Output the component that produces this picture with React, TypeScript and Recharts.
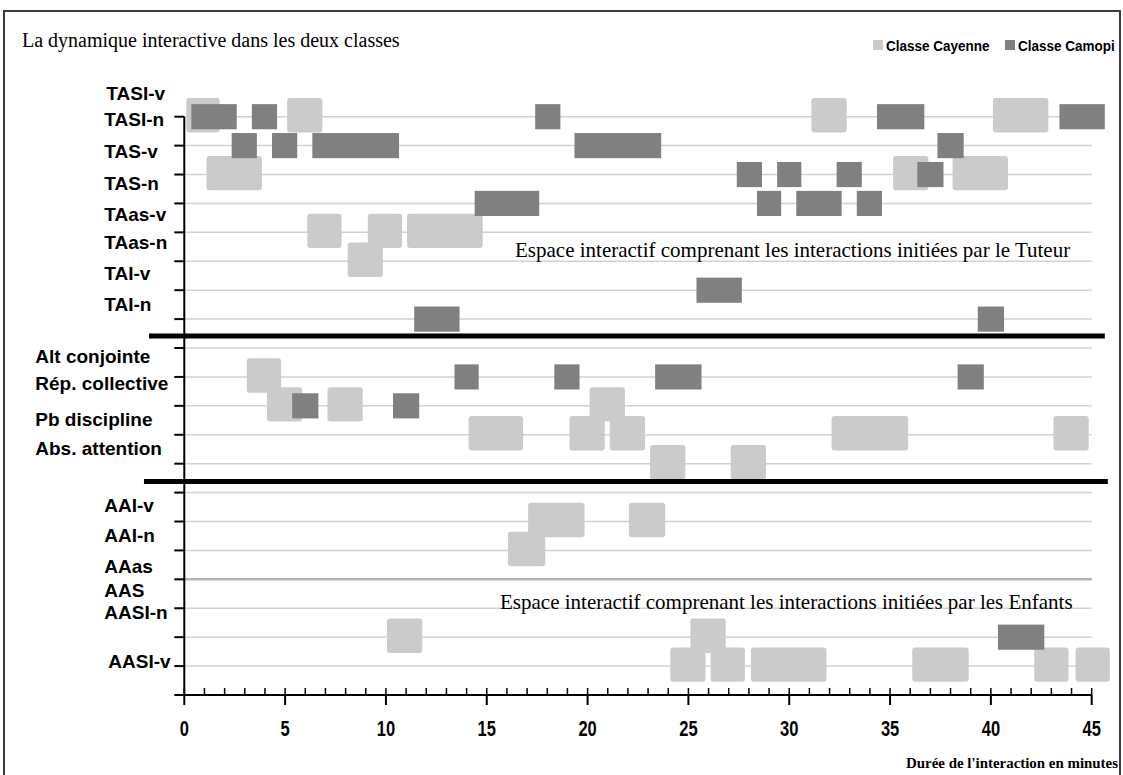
import React from 'react'
import {
  ComposedChart,
  Scatter,
  XAxis,
  YAxis,
  CartesianGrid,
  ReferenceArea,
  ReferenceLine,
} from 'recharts'

// Blocks: [start minute, end minute, row] (row 0 = time axis, row 20 = TASI)
const cayenneBlocks: [number, number, number][] = [
  [0.1, 1.75, 20], [5.1, 6.85, 20], [31.1, 32.85, 20], [40.1, 42.85, 20],
  [1.1, 3.85, 18], [35.15, 36.9, 18], [38.1, 40.85, 18],
  [6.1, 7.8, 16], [9.1, 10.8, 16], [11.05, 14.8, 16],
  [8.1, 9.85, 15],
  [3.1, 4.8, 11],
  [4.1, 5.85, 10], [7.1, 8.85, 10], [20.1, 21.85, 10],
  [14.1, 16.8, 9], [19.1, 20.85, 9], [21.1, 22.85, 9], [32.1, 35.9, 9], [43.1, 44.85, 9],
  [23.1, 24.85, 8], [27.1, 28.85, 8],
  [17.05, 19.85, 6], [22.05, 23.85, 6],
  [16.05, 17.9, 5],
  [10.05, 11.8, 2], [25.1, 26.85, 2],
  [24.1, 25.85, 1], [26.1, 27.8, 1], [28.1, 31.85, 1], [36.1, 38.9, 1], [42.15, 43.85, 1], [44.2, 45.9, 1],
]

const camopiBlocks: [number, number, number][] = [
  [0.35, 2.6, 20], [3.35, 4.6, 20], [17.4, 18.65, 20], [34.35, 36.7, 20], [43.4, 45.65, 20],
  [2.35, 3.6, 19], [4.35, 5.6, 19], [6.35, 10.65, 19], [19.35, 23.65, 19], [37.35, 38.65, 19],
  [27.4, 28.65, 18], [29.4, 30.6, 18], [32.35, 33.6, 18], [36.35, 37.65, 18],
  [14.4, 17.6, 17], [28.4, 29.6, 17], [30.35, 32.6, 17], [33.35, 34.6, 17],
  [25.4, 27.65, 14],
  [11.4, 13.65, 13], [39.35, 40.65, 13],
  [13.4, 14.6, 11], [18.35, 19.6, 11], [23.35, 25.65, 11], [38.35, 39.65, 11],
  [5.35, 6.65, 10], [10.35, 11.65, 10],
  [40.35, 42.65, 2],
]

const rowLabels = [
  'TASI-v', 'TASI-n', 'TAS-v', 'TAS-n', 'TAas-v', 'TAas-n', 'TAI-v', 'TAI-n',
  'Alt conjointe', 'Rép. collective', 'Pb discipline', 'Abs. attention',
  'AAI-v', 'AAI-n', 'AAas', 'AAS', 'AASI-n', 'AASI-v',
]
const rowLabelPos = [
  20.8, 19.9, 18.79, 17.69, 16.63, 15.64, 14.58, 13.49,
  11.7, 10.78, 9.53, 8.53,
  6.57, 5.5, 4.46, 3.6, 2.84, 1.15,
]

const rowTicks = Array.from({ length: 21 }, (_, i) => i)
const majorTicks = [0, 5, 10, 15, 20, 25, 30, 35, 40, 45]
const minuteTicks = Array.from({ length: 46 }, (_, i) => i)

const LIGHT = '#cbcbcb'
const DARK = '#808080'
const LIGHT_H = 1.19
const DARK_H = 0.87
const LIGHT_LIFT = 0.05

// distance from the y axis to the left edge of each label (px)
const labelIndent: Record<string, number> = {
  'TASI-v': 78,
  'Alt conjointe': 149,
  'Rép. collective': 149,
  'Pb discipline': 149,
  'Abs. attention': 149,
  'AASI-v': 76,
}

const SANS = "'Liberation Sans', Arial, sans-serif"
const SERIF = "'Liberation Serif', 'Times New Roman', serif"

// block start points, used as the anchor series of the chart
const cayennePoints = cayenneBlocks.map(([s, , r]) => ({ x: s, y: r }))
const camopiPoints = camopiBlocks.map(([s, , r]) => ({ x: s, y: r }))

const MinuteTick = ({ x, y, payload }: any) => {
  const v = payload.value
  const major = majorTicks.includes(v)
  return (
    <g>
      <line x1={x} x2={x} y1={y} y2={y - 7} stroke="#000" strokeWidth={1.5} />
      {major && <line x1={x} x2={x} y1={y} y2={y + 10} stroke="#000" strokeWidth={2} />}
      {major && (
        <text
          transform={`translate(${x},${y + 41}) scale(0.75,1)`}
          textAnchor="middle"
          fontFamily={SANS}
          fontWeight={700}
          fontSize={22}
          fill="#000"
        >
          {v}
        </text>
      )}
    </g>
  )
}

const EmptyTick = () => <g />

const block = (fill: string, r: number) => (p: any) => (
  <rect x={p.x} y={p.y} width={p.width} height={p.height} rx={r} ry={r} fill={fill} />
)

const noDot = () => <g />

const LegendItem = ({ x, color, text }: { x: number; color: string; text: string }) => (
  <g>
    <rect x={x} y={40} width={10} height={10} fill={color} />
    <text
      transform={`translate(${x + 13},51) scale(0.9,1)`}
      fontFamily={SANS}
      fontWeight={700}
      fontSize={15}
      fill="#000"
    >
      {text}
    </text>
  </g>
)

export default function App() {
  return (
    <div style={{ position: 'absolute', left: 0, top: 0, width: 1123, height: 775, background: '#fff', overflow: 'hidden' }}>
      <div
        style={{
          position: 'absolute', left: 3, top: 10, width: 1118, height: 800,
          boxSizing: 'border-box', border: '2px solid #3c3c3c',
        }}
      />
      <div style={{ position: 'absolute', left: 0, top: 0 }}>
        <ComposedChart width={1123} height={775} margin={{ top: 116.7, right: 31.3, bottom: 30, left: 174.3 }}>
          <CartesianGrid vertical={false} stroke="#d2d2d2" strokeWidth={1.5} />
          <XAxis
            type="number"
            dataKey="x"
            domain={[0, 45]}
            allowDataOverflow
            ticks={minuteTicks}
            interval={0}
            tickSize={0}
            tickMargin={0}
            tickLine={false}
            tick={<MinuteTick />}
            axisLine={{ stroke: '#000', strokeWidth: 2 }}
            height={50}
          />
          <YAxis
            type="number"
            dataKey="y"
            domain={[0, 20]}
            allowDataOverflow
            ticks={rowTicks}
            interval={0}
            tick={<EmptyTick />}
            tickSize={10}
            tickLine={{ stroke: '#000', strokeWidth: 2 }}
            axisLine={{ stroke: '#000', strokeWidth: 2 }}
            width={10}
          />
          <Scatter name="Classe Cayenne" data={cayennePoints} fill={LIGHT} shape={noDot} isAnimationActive={false} />
          <Scatter name="Classe Camopi" data={camopiPoints} fill={DARK} shape={noDot} isAnimationActive={false} />
          <ReferenceLine y={4} stroke="#b4b4b4" strokeWidth={2.5} />
          {cayenneBlocks.map(([s, e, r], i) => (
            <ReferenceArea
              key={'cay' + i}
              x1={s}
              x2={e}
              y1={r + LIGHT_LIFT - LIGHT_H / 2}
              y2={r + LIGHT_LIFT + LIGHT_H / 2}
              ifOverflow="visible"
              shape={block(LIGHT, 3)}
            />
          ))}
          {camopiBlocks.map(([s, e, r], i) => (
            <ReferenceArea
              key={'cam' + i}
              x1={s}
              x2={e}
              y1={r - DARK_H / 2}
              y2={r + DARK_H / 2}
              ifOverflow="visible"
              shape={block(DARK, 0)}
            />
          ))}
          <ReferenceLine
            segment={[{ x: -1.75, y: 12.42 }, { x: 45.65, y: 12.42 }]}
            stroke="#000"
            strokeWidth={5}
            ifOverflow="visible"
          />
          <ReferenceLine
            segment={[{ x: -2, y: 7.38 }, { x: 45.8, y: 7.38 }]}
            stroke="#000"
            strokeWidth={5}
            ifOverflow="visible"
          />
          {rowLabels.map((name, i) => (
            <ReferenceLine
              key={name}
              y={rowLabelPos[i]}
              stroke="none"
              ifOverflow="visible"
              label={(p: any) => (
                <text
                  x={p.viewBox.x - (labelIndent[name] ?? 80)}
                  y={p.viewBox.y}
                  dominantBaseline="central"
                  fontFamily={SANS}
                  fontWeight={700}
                  fontSize={19}
                  fill="#000"
                >
                  {name}
                </text>
              )}
            />
          ))}
        </ComposedChart>
      </div>
      <svg width={1123} height={775} style={{ position: 'absolute', left: 0, top: 0, pointerEvents: 'none' }}>
        <text x={22} y={47} fontFamily={SERIF} fontSize={20} fill="#000">
          La dynamique interactive dans les deux classes
        </text>
        <LegendItem x={873} color={LIGHT} text="Classe Cayenne" />
        <LegendItem x={1005} color={DARK} text="Classe Camopi" />
        <text x={515} y={257} fontFamily={SERIF} fontSize={21} fill="#000">
          Espace interactif comprenant les interactions initiées par le Tuteur
        </text>
        <text x={500} y={609} fontFamily={SERIF} fontSize={21} fill="#000">
          Espace interactif comprenant les interactions initiées par les Enfants
        </text>
        <text
          x={906}
          y={768}
          fontFamily={SERIF}
          fontWeight={700}
          fontSize={15}
          textLength={212}
          lengthAdjust="spacingAndGlyphs"
          fill="#000"
        >
          Durée de l'interaction en minutes
        </text>
      </svg>
    </div>
  )
}
